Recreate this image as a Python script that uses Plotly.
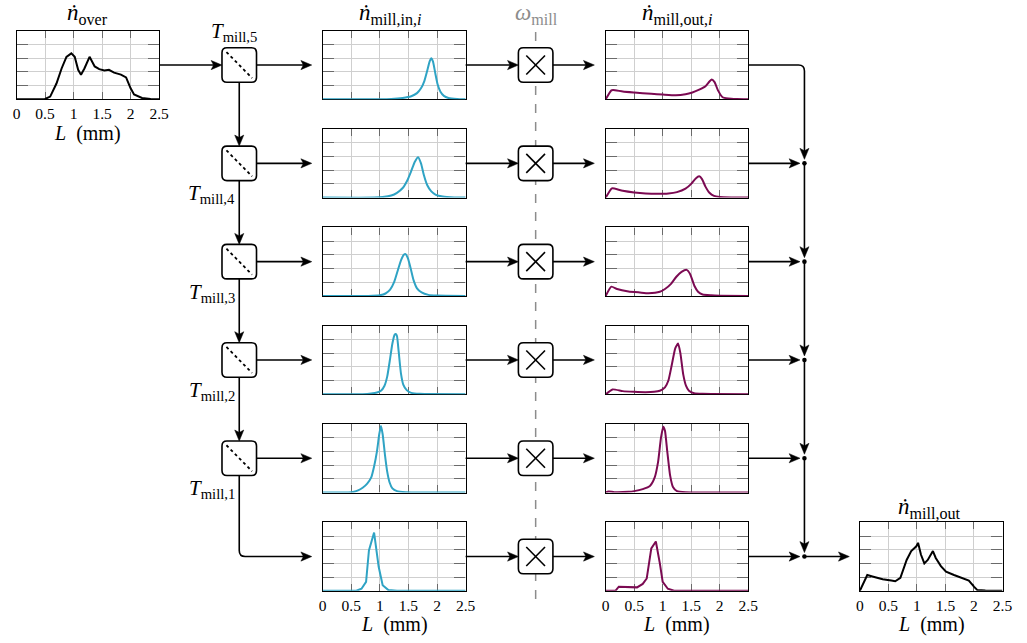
import plotly.graph_objects as go

W, H = 1027, 643

# ---- size distributions, L in mm, normalised number flow ----
L_over = [0, 0.4, 0.5, 0.59, 0.7, 0.79, 0.875, 0.96, 1.02, 1.08, 1.13, 1.19, 1.28, 1.37,
          1.45, 1.54, 1.62, 1.71, 1.83, 1.92, 2.0, 2.06, 2.2, 2.35, 2.5]
n_over = [0, 0, 0.005, 0.04, 0.23, 0.45, 0.62, 0.67, 0.62, 0.43, 0.36, 0.45, 0.62, 0.48,
          0.44, 0.42, 0.43, 0.39, 0.36, 0.32, 0.16, 0.07, 0.02, 0.005, 0]

L_in_5 = [0, 1.0, 1.2, 1.4, 1.55, 1.65, 1.72, 1.78, 1.83, 1.87, 1.90, 1.93, 1.97, 2.01, 2.06, 2.12, 2.2, 2.35, 2.5]
n_in_5 = [0, 0, 0.005, 0.02, 0.045, 0.09, 0.16, 0.27, 0.42, 0.55, 0.60, 0.55, 0.38, 0.22, 0.11, 0.05, 0.02, 0.005, 0]

L_in_4 = [0, 0.9, 1.05, 1.2, 1.3, 1.4, 1.48, 1.55, 1.61, 1.67, 1.72, 1.77, 1.83, 1.9, 1.98, 2.1, 2.3, 2.5]
n_in_4 = [0, 0, 0.008, 0.03, 0.07, 0.14, 0.25, 0.39, 0.52, 0.59, 0.50, 0.33, 0.18, 0.09, 0.04, 0.015, 0.003, 0]

L_in_3 = [0, 0.8, 1.0, 1.1, 1.18, 1.25, 1.31, 1.37, 1.42, 1.45, 1.49, 1.54, 1.59, 1.65, 1.73, 1.85, 2.0, 2.5]
n_in_3 = [0, 0, 0.01, 0.035, 0.09, 0.2, 0.36, 0.52, 0.60, 0.61, 0.55, 0.40, 0.23, 0.11, 0.05, 0.015, 0.005, 0]

L_in_2 = [0, 0.7, 0.85, 0.95, 1.02, 1.08, 1.13, 1.18, 1.22, 1.26, 1.28, 1.30, 1.33, 1.37, 1.41, 1.47, 1.55, 1.7, 2.5]
n_in_2 = [0, 0, 0.01, 0.025, 0.05, 0.12, 0.26, 0.52, 0.74, 0.87, 0.88, 0.85, 0.62, 0.30, 0.14, 0.06, 0.02, 0.005, 0]

L_in_1 = [0, 0.45, 0.55, 0.62, 0.7, 0.78, 0.85, 0.9, 0.95, 0.99, 1.02, 1.05, 1.09, 1.13, 1.17, 1.22, 1.3, 1.45, 2.5]
n_in_1 = [0, 0, 0.01, 0.03, 0.07, 0.13, 0.22, 0.38, 0.6, 0.85, 0.97, 0.85, 0.55, 0.3, 0.15, 0.06, 0.02, 0.005, 0]

L_in_0 = [0, 0.59, 0.68, 0.76, 0.81, 0.90, 0.98, 1.05, 1.15, 1.3, 2.5]
n_in_0 = [0, 0, 0.03, 0.13, 0.59, 0.85, 0.35, 0.08, 0.01, 0, 0]

L_out_5 = [0, 0.1, 0.13, 0.3, 0.5, 0.8, 1.0, 1.23, 1.4, 1.52, 1.64, 1.75, 1.82, 1.86, 1.91, 1.97, 2.05, 2.15, 2.3, 2.5]
n_out_5 = [0, 0.13, 0.135, 0.115, 0.1, 0.08, 0.07, 0.06, 0.075, 0.1, 0.14, 0.19, 0.26, 0.29, 0.25, 0.13, 0.03, 0.012, 0.004, 0]

L_out_4 = [0, 0.1, 0.12, 0.3, 0.5, 0.7, 0.9, 1.1, 1.25, 1.4, 1.5, 1.58, 1.64, 1.69, 1.75, 1.82, 1.9, 2.0, 2.2, 2.5]
n_out_4 = [0, 0.13, 0.135, 0.1, 0.075, 0.06, 0.055, 0.06, 0.08, 0.13, 0.2, 0.28, 0.31, 0.27, 0.16, 0.07, 0.025, 0.01, 0.003, 0]

L_out_3 = [0, 0.1, 0.2, 0.4, 0.6, 0.75, 0.95, 1.04, 1.15, 1.24, 1.33, 1.42, 1.48, 1.56, 1.62, 1.7, 1.85, 2.0, 2.5]
n_out_3 = [0, 0.135, 0.1, 0.065, 0.05, 0.04, 0.06, 0.1, 0.18, 0.28, 0.35, 0.38, 0.32, 0.14, 0.06, 0.02, 0.008, 0.003, 0]

L_out_2 = [0, 0.12, 0.3, 0.5, 0.7, 0.85, 0.95, 1.04, 1.1, 1.16, 1.22, 1.27, 1.31, 1.36, 1.41, 1.46, 1.55, 1.7, 2.5]
n_out_2 = [0, 0.07, 0.045, 0.035, 0.03, 0.035, 0.05, 0.1, 0.2, 0.43, 0.67, 0.74, 0.6, 0.29, 0.12, 0.05, 0.015, 0.005, 0]

L_out_1 = [0, 0.05, 0.15, 0.4, 0.5, 0.65, 0.78, 0.86, 0.92, 0.97, 1.01, 1.04, 1.08, 1.13, 1.18, 1.25, 1.4, 2.5]
n_out_1 = [0, 0.015, 0.005, 0.01, 0.02, 0.05, 0.1, 0.22, 0.45, 0.8, 0.96, 0.9, 0.6, 0.25, 0.08, 0.02, 0.005, 0]

L_out_0 = [0, 0.17, 0.23, 0.35, 0.55, 0.65, 0.72, 0.80, 0.88, 0.95, 1.0, 1.09, 1.2, 2.5]
n_out_0 = [0, 0, 0.06, 0.06, 0.05, 0.1, 0.18, 0.62, 0.72, 0.4, 0.13, 0.03, 0, 0]

L_mo = [0, 0.13, 0.22, 0.4, 0.55, 0.62, 0.71, 0.82, 0.9, 0.99, 1.02, 1.07, 1.13, 1.19, 1.28,
        1.33, 1.42, 1.51, 1.65, 1.77, 1.91, 2.0, 2.06, 2.2, 2.5]
n_mo = [0, 0.23, 0.21, 0.17, 0.15, 0.14, 0.19, 0.45, 0.58, 0.65, 0.70, 0.53, 0.40, 0.45, 0.58,
        0.48, 0.36, 0.28, 0.23, 0.19, 0.15, 0.06, 0.01, 0.005, 0]

x_ticks = [0, 0.5, 1, 1.5, 2, 2.5]
x_tick_text = ["0", "0.5", "1", "1.5", "2", "2.5"]

in_series = [(L_in_5, n_in_5, True), (L_in_4, n_in_4, True), (L_in_3, n_in_3, True),
             (L_in_2, n_in_2, True), (L_in_1, n_in_1, True), (L_in_0, n_in_0, False)]
out_series = [(L_out_5, n_out_5, True), (L_out_4, n_out_4, True), (L_out_3, n_out_3, True),
              (L_out_2, n_out_2, True), (L_out_1, n_out_1, True), (L_out_0, n_out_0, False)]

C_IN = "#2fa3c4"
C_OUT = "#7b0a52"
FONT = "Liberation Serif"

# ---- layout geometry (pixels) ----
ROW_TOP0, ROW_STEP, ROW_H = 30.8, 98.3, 68.5
row_top = [ROW_TOP0 + ROW_STEP * i for i in range(6)]
row_c = [t + ROW_H / 2 for t in row_top]
X_OVER = (12.7, 157.3)
X_IN = (323.0, 468.0)
X_OUT = (610.0, 754.5)
X_FIN = (867.7, 1012.3)
SPLIT_X = 238.5
MULT_X = 539.0
JOIN_X = 811.5

fig = go.Figure()
layout = {}
panel = [0]


def add_panel(L, n, color, x_px, top_px, labels, spline):
    panel[0] += 1
    k = panel[0]
    sx = "" if k == 1 else str(k)
    fig.add_trace(go.Scatter(
        x=L, y=n, mode="lines", xaxis="x" + sx, yaxis="y" + sx,
        line=dict(color=color, width=2, shape="spline" if spline else "linear",
                  smoothing=0.5),
        hoverinfo="skip", showlegend=False))
    common = dict(showgrid=True, gridcolor="#cfcfcf", gridwidth=1, zeroline=False,
                  showline=True, linecolor="black", linewidth=1.3, mirror="ticks",
                  ticks="inside", tickcolor="#6a6a6a", tickwidth=1.2,
                  layer="below traces", fixedrange=True)
    layout["xaxis" + sx] = dict(
        common, domain=[x_px[0] / W, x_px[1] / W], range=[0, 2.5],
        tickvals=x_ticks, ticktext=x_tick_text, ticklen=7,
        showticklabels=labels, tickfont=dict(family=FONT, size=15.5, color="black"),
        anchor="y" + sx)
    layout["yaxis" + sx] = dict(
        common, domain=[1 - (top_px + ROW_H) / H, 1 - top_px / H], range=[0, 1],
        dtick=0.2, ticklen=11, showticklabels=False, anchor="x" + sx)


add_panel(L_over, n_over, "black", X_OVER, row_top[0], True, False)
for i, (L, n, sp) in enumerate(in_series):
    add_panel(L, n, C_IN, X_IN, row_top[i], i == 5, sp)
for i, (L, n, sp) in enumerate(out_series):
    add_panel(L, n, C_OUT, X_OUT, row_top[i], i == 5, sp)
add_panel(L_mo, n_mo, "black", X_FIN, row_top[5], True, False)

# ---- block diagram ----
shapes = []
LW = 1.6


def X(px):
    return px / W


def Y(py):
    return 1 - py / H


def seg(x0, y0, x1, y1, color="black", width=LW, dash="solid"):
    shapes.append(dict(type="line", xref="paper", yref="paper",
                       x0=X(x0), y0=Y(y0), x1=X(x1), y1=Y(y1),
                       line=dict(color=color, width=width, dash=dash)))


def path(pts_cmds, color="black", width=LW, fill=None):
    shapes.append(dict(type="path", xref="paper", yref="paper", path=pts_cmds,
                       line=dict(color=color, width=width),
                       fillcolor=fill if fill else "rgba(0,0,0,0)"))


def P(px, py):
    return f"{X(px):.5f},{Y(py):.5f}"


AL, AW = 11, 4.6


def head(x, y, d):
    if d == "r":
        pts = [(x, y), (x - AL, y - AW), (x - AL + 2.5, y), (x - AL, y + AW)]
    else:
        pts = [(x, y), (x - AW, y - AL), (x, y - AL + 2.5), (x + AW, y - AL)]
    shapes.append(dict(type="path", xref="paper", yref="paper",
                       path="M " + " L ".join(P(a, b) for a, b in pts) + " Z",
                       fillcolor="black", line=dict(color="black", width=0.5)))


def arrow_r(x0, x1, y):
    seg(x0, y, x1 - AL + 3, y)
    head(x1, y, "r")


def arrow_d(x, y0, y1):
    seg(x, y0, x, y1 - AL + 3)
    head(x, y1, "d")


def rbox(cx, cy, w=35, h=34.5, r=5):
    x0, x1, y0, y1 = cx - w / 2, cx + w / 2, cy - h / 2, cy + h / 2
    d = (f"M {P(x0 + r, y0)} L {P(x1 - r, y0)} Q {P(x1, y0)} {P(x1, y0 + r)} "
         f"L {P(x1, y1 - r)} Q {P(x1, y1)} {P(x1 - r, y1)} L {P(x0 + r, y1)} "
         f"Q {P(x0, y1)} {P(x0, y1 - r)} L {P(x0, y0 + r)} Q {P(x0, y0)} {P(x0 + r, y0)} Z")
    path(d, fill="white")


def dot(x, y, r=2.3):
    shapes.append(dict(type="circle", xref="paper", yref="paper",
                       x0=X(x - r), x1=X(x + r), y0=Y(y - r), y1=Y(y + r),
                       fillcolor="black", line=dict(color="black", width=0)))


BOX_HALF = 17.25

# dashed speed line through the multiplier column
seg(MULT_X, 32, MULT_X, 602, color="#8c8c8c", width=1.5, dash="dash")

# feed into the first splitter
arrow_r(X_OVER[1], SPLIT_X - 17.5, row_c[0])

# splitter chain
for i in range(5):
    rbox(SPLIT_X, row_c[i])
    seg(SPLIT_X - 13, row_c[i] - 13, SPLIT_X + 13, row_c[i] + 13, width=1.8, dash="dot")
    arrow_r(SPLIT_X + 17.5, 312, row_c[i])
    if i < 4:
        arrow_d(SPLIT_X, row_c[i] + BOX_HALF, row_c[i + 1] - BOX_HALF)

# last branch bends into the bottom row
r = 6
path(f"M {P(SPLIT_X, row_c[4] + BOX_HALF)} L {P(SPLIT_X, row_c[5] - r)} "
     f"Q {P(SPLIT_X, row_c[5])} {P(SPLIT_X + r, row_c[5])} L {P(312 - AL + 3, row_c[5])}")
head(312, row_c[5], "r")

# multipliers
for i in range(6):
    arrow_r(X_IN[1], MULT_X - 17.5, row_c[i])
    rbox(MULT_X, row_c[i])
    seg(MULT_X - 9.5, row_c[i] - 9.5, MULT_X + 9.5, row_c[i] + 9.5, width=1.6)
    seg(MULT_X - 9.5, row_c[i] + 9.5, MULT_X + 9.5, row_c[i] - 9.5, width=1.6)
    arrow_r(MULT_X + 17.5, 598.5, row_c[i])

# collector on the right
path(f"M {P(X_OUT[1], row_c[0])} L {P(JOIN_X - r, row_c[0])} "
     f"Q {P(JOIN_X, row_c[0])} {P(JOIN_X, row_c[0] + r)} L {P(JOIN_X, row_c[1] - 4 - AL + 3)}")
head(JOIN_X, row_c[1] - 4, "d")
for i in range(1, 6):
    arrow_r(X_OUT[1], JOIN_X - 4.5, row_c[i])
    dot(JOIN_X, row_c[i])
    if i < 5:
        arrow_d(JOIN_X, row_c[i], row_c[i + 1] - 4)
arrow_r(JOIN_X, 857, row_c[5])

layout["shapes"] = shapes

# ---- text ----
anns = []


def txt(x, y, s, size=19, color="black", xanchor="center"):
    anns.append(dict(x=X(x), y=Y(y), xref="paper", yref="paper", text=s,
                     showarrow=False, xanchor=xanchor, yanchor="middle",
                     font=dict(family=FONT, size=size, color=color)))


TS = 23
txt(85, 14, "<i>ṅ</i><sub>over</sub>", size=TS)
txt(391, 14, "<i>ṅ</i><sub>mill,in,<i>i</i></sub>", size=TS)
txt(540, 14, "<i>ω</i><sub>mill</sub>", size=TS, color="#8c8c8c")
txt(683, 14, "<i>ṅ</i><sub>mill,out,<i>i</i></sub>", size=TS)
txt(938, 508, "<i>ṅ</i><sub>mill,out</sub>", size=TS)

txt(233, 32, "<i>T</i><sub>mill,5</sub>", size=21)
for i, lab in zip(range(1, 5), ["4", "3", "2", "1"]):
    txt(236, row_c[i] + 31, f"<i>T</i><sub>mill,{lab}</sub>", size=21, xanchor="right")

axis_lab = "<i>L</i>  (mm)"
for xs, yb in [(X_OVER, row_top[0] + ROW_H), (X_IN, row_top[5] + ROW_H),
               (X_OUT, row_top[5] + ROW_H), (X_FIN, row_top[5] + ROW_H)]:
    txt((xs[0] + xs[1]) / 2, yb + 34, axis_lab, size=20)

layout["annotations"] = anns

fig.update_layout(**layout)
fig.update_layout(width=W, height=H, margin=dict(l=0, r=0, t=0, b=0),
                  paper_bgcolor="white", plot_bgcolor="white",
                  showlegend=False, font=dict(family=FONT))

fig.write_html("out.html", config={"displayModeBar": False})
